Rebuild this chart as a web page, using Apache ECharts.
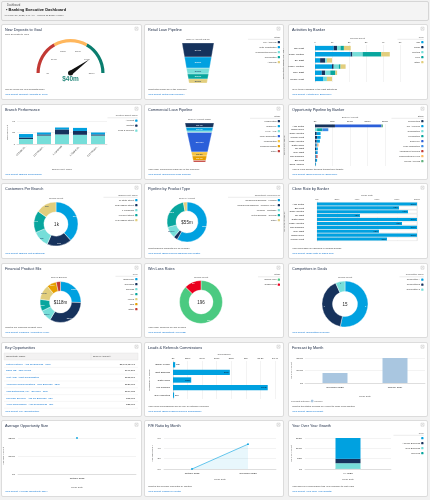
<!DOCTYPE html>
<html><head><meta charset="utf-8">
<script src="https://cdn.jsdelivr.net/npm/echarts@6/dist/echarts.min.js"></script>
<style>
html,body{margin:0;padding:0;background:#f2f2f2;}
#wrap{position:relative;width:430px;height:500px;overflow:hidden;background:#f2f2f2;}
.panel{position:absolute;background:#fff;border:1px solid #dcdcdc;border-radius:2px;box-sizing:border-box;}
#chart{position:absolute;left:0;top:0;width:430px;height:500px;}
</style></head><body>
<div id="wrap"><div id="panels"></div><div id="chart"></div></div>
<script>
// ---------------- DATA ----------------
const headerLabel = 'Dashboard';
const dashTitle = '• Banking Executive Dashboard';
const asOfText = 'As of Nov 27, 2023, 8:47 AM · Viewing as Bobby Kruger';

// New Deposits to Goal
const depositTicks = ['$0', '$10m', '$20m', '$30m', '$40m', '$50m'];
const depositMax = 50;
const depositValue = 40;
const depositLabel = '$40m';

// Retail Loan Pipeline
const retailStages = ['Pre-Approval', 'Rate Negotiation', 'Underwriting Review', 'Preparation', 'Approval'];
const retailAmounts = [740, 580, 310, 260, 210];
const retailLabels = ['$740k', '$580k', '$310k', '$260k', '$210k'];
const retailTotalText = 'Sum of Amount: $2.1m';

// Activities by Banker
const actBankers = ['Bill West', 'Cindy Central', 'Ely East', 'Kasey Central', 'Rory East', 'Wendy West'];
const actTypes = ['Call', 'Email', 'Meeting', 'Prep', 'Other'];
const actCall = [11, 21, 3, 10, 4, 5];
const actEmail = [2, 1, 3, 1, 2, 0];
const actMeeting = [2, 6, 1, 3, 3, 2];
const actPrep = [2, 11, 0, 1, 3, 0];
const actOther = [4, 5, 3, 3, 1, 3];

// Branch Performance
const branchNames = ['10 State Street', '123 Mission Street', '1 Landmark', '1 Market Street', '415 Mission Street'];
const branchObjects = ['Account', 'Contact', 'Lead & Referral'];
const branchAccount = [9, 5, 5, 8, 5];
const branchContact = [4, 3, 13, 10, 3];
const branchLead = [13, 22, 25, 24, 22];

// Commercial Loan Pipeline
const comStages = ['Prospecting', 'Discovery', 'KYC / AML', 'Loan Origination', 'Underwriting', 'Closing/Funding', 'Other'];
const comAmounts = [2.4, 1.9, 0.8, 10.5, 2.2, 2.4, 0.8];
const comLabels = ['$2.4m', '$1.9m', '', '$10.5m', '$2.2m', '$2.4m', ''];
const comTotalText = 'Sum of Amount: $21m';

// Opportunity Pipeline by Banker ($m)
const oppBankers = ['Alan Curtis', 'Sofia Lopez', 'Cindy Central', 'Wendy West', 'Kasey Central', 'Justin Chan', 'Ely East', 'Rory East', 'Ron Johnson', 'Bill West', 'Carla Halman'];
const oppStages = ['Prospecting', 'Pre-Approval', 'Qualification', 'Preparation', 'Discovery', 'Loan Origination', 'Assessment Needed', 'Underwriting Review', 'Needs Analysis'];
const oppProspecting = [5.7, 0, 0.5, 0.6, 0.5, 0.2, 0.3, 0.2, 0.1, 0.2, 0.1];
const oppPreApproval = [0, 0, 1.1, 1.0, 0.9, 0.3, 0.5, 0.5, 0.2, 0.4, 0.2];
const oppQualification = [0, 0.6, 0, 0, 0, 0, 0, 0, 0, 0, 0];
const oppPreparation = [0, 1.5, 0, 0, 0, 0, 0, 0, 0, 0, 0];
const oppDiscovery = [13.3, 0, 0, 0, 0, 0.2, 0, 0.1, 0.1, 0, 0];
const oppLoanOrig = [0, 1.7, 0, 0, 0, 0, 0, 0, 0, 0, 0];
const oppAssessment = [0, 0, 0, 0, 0, 0, 0, 0, 0.3, 0, 0];
const oppUnderwriting = [0, 0, 0, 0, 0, 0.3, 0, 0, 0, 0, 0];
const oppNeeds = [0.4, 0, 0, 0, 0, 0, 0, 0, 0, 0, 0];

// Customers Per Branch
const custBranches = ['10 State Street', '123 Mission Street', '1 Landmark', '1 Market Street', '415 Mission Street'];
const custCounts = [380, 180, 120, 160, 150];
const custLabels = ['380', '180', '120', '160', '150'];
const custTotal = '1k';

// Pipeline by Product Type ($m)
const prodTypes = ['Commercial Banking - Lending', 'Commercial Banking - Treasury Man...', 'Lending - Mortgage', 'Retail Banking - General', 'Other'];
const prodAmounts = [32, 1.8, 5.1, 14.5, 1.6];
const prodLabels = ['$32m', '', '$5.1m', '$15m', ''];
const prodTotal = '$55m';

// Close Rate by Banker (%)
const closeBankers = ['Alan Curtis', 'Bill West', 'Cindy Central', 'Ely East', 'Justin Chan', 'Kasey Central', 'Ron Johnson', 'Rory East', 'Sofia Lopez', 'Wendy West'];
const closeRates = [100, 82, 91, 43, 100, 85, 100, 62, 100, 70];

// Financial Product Mix ($m)
const finTypes = ['Brokerage', 'Checking', 'Savings', 'IRA', '401Ks', 'CDs', 'Other'];
const finAmounts = [30, 39, 11, 11, 14, 9, 4];
const finLabels = ['$30m', '$39m', '$11m', '$11m', '$14m', '$9m', ''];
const finTotal = '$118m';

// Win Loss Rates
const winStages = ['Closed Won', 'Closed Lost'];
const winCounts = [171, 25];
const winTotal = '196';

// Competitors in Deals
const compNames = ['Competitor A', 'Competitor B', 'Competitor C'];
const compCounts = [8, 6, 1];
const compTotal = '15';

// Key Opportunities
const keyOppNames = ['United Partners - Add On Business - 800K', 'TEFR OD - Jake Morris', 'Vent Away Asset Consolidation', 'Advanced Communications - New Business - 130K', 'Vand Enterprises, Inc. - Services - 110K', 'Universal Services - Add On Business - 85K', 'Allied Technologies - Add On Business - 35K'];
const keyOppAmounts = ['$3,848,024.17', '$997,200', '$183,876', '$130,000', '$109,888', '$85,000', '$35,000'];

// Leads & Referrals Commissions
const leadOwners = ['Bobby Kruger', 'Eliot Edwards', 'Justin Chan', 'Kim Johnson', 'Sue Marketing'];
const leadCommission = [30, 780, 250, 1300, 15];
const leadLabels = ['$30', '$780', '$250', '$1.3k', '$15'];

// Forecast by Month ($k)
const forecastMonths = ['December 2023', 'January 2024'];
const forecastPipeline = [320, 800];

// Average Opportunity Size ($k)
const avgMonths = ['October 2023'];
const avgAmount = [200];

// P/E Ratio by Month (%)
const peMonths = ['October 2023', 'November 2023'];
const peMargin = [0, 4.8];

// Year Over Year Growth ($m)
const yoyPeriods = ['FY 2023'];
const yoyTypes = ['-', 'Add On Business', 'New Business', 'Services'];
const yoyDash = [10.1];
const yoyAddOn = [2.1];
const yoyNew = [2.6];
const yoyServices = [0.2];

// ---------------- STYLE / LAYOUT ----------------
const FONT = "'Liberation Sans', Arial, sans-serif";
const BLUE = '#00a1e0', NAVY = '#16325c', LTEAL = '#76ded9', TEAL = '#08a69e', YELLOW = '#e2ce7d',
  ORANGE = '#e69f00', RED = '#c23934', LORANGE = '#ffb75d', GREEN = '#60b17d', DTEAL = '#0a7d6e', ROYAL = '#2b5fd9';
const TXT = '#3e3e3c', LINK = '#0070d2', TITLE = '#1d2b45';
const colX = [1, 144, 288], colW = [141, 140, 140];
const rowY = [24, 104, 183, 263, 342, 420], rowH = [76, 76, 76, 75, 75, 77];

const panelInfo = [
  ['New Deposits to Goal', 'Will we reach our new deposits goal?', 'View Report (Deposit Accounts by Type)'],
  ['Retail Loan Pipeline', 'What retail loans are in the pipeline?', 'View Report (Retail Loan Pipeline)'],
  ['Activities by Banker', 'Is my team engaging in the right activities?', 'View Report (Activities by Sales Rep)'],
  ['Branch Performance', '', 'View Report (Branch Performance)'],
  ['Commercial Loan Pipeline', 'How many commercial loans are in the pipeline?', 'View Report (Commercial Loan Pipeline)'],
  ['Opportunity Pipeline by Banker', 'How is each banker tracking toward their target?', 'View Report (Sales Pipeline by Sales Rep)'],
  ['Customers Per Branch', '', 'View Report (Branch Unit Customers)'],
  ['Pipeline by Product Type', 'What financial products are we selling?', 'View Report (Sales Pipeline Banking and Wealth)'],
  ['Close Rate by Banker', 'How successful are Bankers in Closing Deals?', 'View Report (Close Rate by Sales Rep)'],
  ['Financial Product Mix', 'What is our Financial Product Mix?', 'View Report (Financial Accounts by Type)'],
  ['Win Loss Rates', 'How many deals do we win or lose?', 'View Report (Opportunity Win Loss)'],
  ['Competitors in Deals', '', 'View Report (Competitors in Deals)'],
  ['Key Opportunities', '', 'View Report (Key Opportunities)'],
  ['Leads & Referrals Commissions', 'How much commissions will we pay for internal referrals?', 'View Report (Sales Leads & Referral Commission)'],
  ['Forecast by Month', 'What is the status of deals we expect to close each month?', 'View Report (Sales Forecast)'],
  ['Average Opportunity Size', '', 'View Report (Average Opportunity Size)'],
  ['P/E Ratio by Month', 'What is the average P/E Ratio by month?', 'View Report (Margin by Month)'],
  ['Year Over Year Growth', 'How does our performance this year compare to last year?', 'View Report (Year Over Year Growth)']
];

// panels (HTML backgrounds)
const pHost = document.getElementById('panels');
function addBox(x, y, w, h, extra) {
  const d = document.createElement('div');
  d.className = 'panel';
  d.style.cssText = `left:${x}px;top:${y}px;width:${w}px;height:${h}px;` + (extra || '');
  pHost.appendChild(d);
}
addBox(1, 1, 428, 20, 'background:#f4f4f4;border-color:#d6d6d6;');
const gfx = [];
function T(x, y, text, o) {
  const st = Object.assign({ text, fontSize: 2.5, fontFamily: FONT, fill: TXT, align: 'left', verticalAlign: 'middle' }, o || {});
  st.textAlign = st.align; st.textVerticalAlign = st.verticalAlign;
  gfx.push({ type: 'text', x, y, silent: true, z: 50, style: st });
}
function L(x1, y1, x2, y2, c, w) {
  gfx.push({ type: 'line', silent: true, z: 40, shape: { x1, y1, x2, y2 }, style: { stroke: c || '#ddd', lineWidth: w || 0.4 } });
}
function R(x, y, w, h, fill, stroke, r) {
  gfx.push({ type: 'rect', silent: true, z: 40, shape: { x, y, width: w, height: h, r: r || 0 }, style: { fill: fill || 'none', stroke: stroke || null, lineWidth: 0.4 } });
}
const panels = [];
for (let r = 0; r < 6; r++) for (let c = 0; c < 3; c++) {
  const x = colX[c], y = rowY[r], w = colW[c], h = rowH[r];
  panels.push({ x, y, w, h });
  addBox(x, y, w, h);
}
panels.forEach((p, i) => {
  const [t, q, l] = panelInfo[i];
  T(p.x + 4, p.y + 5.5, t, { fontSize: 3.8, fill: TITLE });
  // expand icon
  R(p.x + p.w - 7, p.y + 3.2, 3, 3, 'none', '#b0b0b0');
  L(p.x + p.w - 6.4, p.y + 3.8, p.x + p.w - 4.6, p.y + 5.6, '#b0b0b0', 0.3);
  L(p.x + p.w - 4.6, p.y + 3.8, p.x + p.w - 6.4, p.y + 5.6, '#b0b0b0', 0.3);
  const by = p.y + p.h;
  if (q) T(p.x + 4, by - 10.5, q, { fontSize: 2.4 });
  T(p.x + 4, by - 5.5, l, { fontSize: 2.4, fill: LINK });
});
// header
T(7, 5.5, headerLabel, { fontSize: 2.7, fill: '#555' });
T(6, 10, dashTitle, { fontSize: 4, fontWeight: 'bold', fill: '#111' });
T(4, 15.5, asOfText, { fontSize: 2.4, fill: '#555' });
// subtitle of gauge
T(5, 34.5, 'New Deposits to Goal', { fontSize: 2.5, fill: '#555' });

function legend(right, y, title, names, cols, lineW) {
  T(right + 0.3, y, title, { align: 'right', fontSize: 2.3, fill: '#555' });
  L(right - lineW, y + 2.3, right + 0.3, y + 2.3, '#cfcfcf', 0.4);
  names.forEach((n, i) => {
    const yy = y + 5.2 + i * 5;
    T(right - 3.4, yy, n, { align: 'right', fontSize: 2.3 });
    R(right - 2.3, yy - 1.15, 2.3, 2.3, cols[i], null, 0.6);
  });
}

const retailColors = [NAVY, BLUE, LTEAL, TEAL, YELLOW];
const actColors = [BLUE, NAVY, LTEAL, TEAL, YELLOW];
const branchColors = [BLUE, NAVY, LTEAL];
const comColors = [NAVY, BLUE, LTEAL, ROYAL, '#f5c342', ORANGE, RED];
const oppColors = [NAVY, BLUE, LTEAL, TEAL, ROYAL, '#3d8ce6', RED, LORANGE, GREEN];
const custColors = [BLUE, NAVY, LTEAL, TEAL, YELLOW];
const prodColors = [BLUE, NAVY, LTEAL, TEAL, YELLOW];
const finColors = [BLUE, NAVY, LTEAL, TEAL, YELLOW, ORANGE, RED];
const winColors = ['#4bca81', '#ea001e'];
const compColors = [BLUE, NAVY, LTEAL];
const yoyColors = [BLUE, NAVY, LTEAL, TEAL];

legend(280, 37, 'Stage', retailStages, retailColors, 32);
legend(423.5, 37, 'Type', actTypes, actColors, 26);
legend(137.5, 115.5, 'Related Object Name', branchObjects, branchColors, 30);
legend(280, 116, 'Stage', comStages, comColors, 30);
legend(423.5, 116, 'Stage', oppStages, oppColors, 32);
legend(137.5, 195, 'Branch Unit: Name', custBranches, custColors, 34);
legend(280, 195, 'Opportunity Record Type', prodTypes, prodColors, 52);
legend(137.5, 274, 'Type', finTypes, finColors, 22);
legend(280, 274.5, 'Stage', winStages, winColors, 22);
legend(423.5, 274.5, 'Competitor Name', compNames, compColors, 24);
legend(423.5, 433, 'Type', yoyTypes, yoyColors, 30);

// funnel / donut captions and center values
T(198, 39, retailTotalText, { align: 'center', fontSize: 2.3, fill: '#555' });
T(199.5, 119, comTotalText, { align: 'center', fontSize: 2.3, fill: '#555' });
T(56, 198, 'Record Count', { align: 'center', fontSize: 2.3, fill: '#555' });
T(187, 198, 'Sum of Amount', { align: 'center', fontSize: 2.3, fill: '#555' });
T(59, 277, 'Sum of Balance', { align: 'center', fontSize: 2.3, fill: '#555' });
T(201, 277, 'Record Count', { align: 'center', fontSize: 2.3, fill: '#555' });
T(345, 277, 'Record Count', { align: 'center', fontSize: 2.3, fill: '#555' });
T(56.5, 224.5, custTotal, { align: 'center', fontSize: 4.5, fill: '#222' });
T(187, 222.5, prodTotal, { align: 'center', fontSize: 4.5, fill: '#222' });
T(60.5, 302.5, finTotal, { align: 'center', fontSize: 4.5, fill: '#222' });
T(201, 302.5, winTotal, { align: 'center', fontSize: 4.5, fill: '#222' });
T(345, 304.5, compTotal, { align: 'center', fontSize: 4.5, fill: '#222' });

// Key Opportunities table
R(4, 353, 134, 7, '#f3f2f2', '#dedede');
L(91, 353, 91, 360, '#dedede', 0.4);
T(6, 356.6, 'Opportunity Name', { fontSize: 2.4 });
T(93, 356.6, 'Sum of Amount ↓', { fontSize: 2.4 });
keyOppNames.forEach((n, i) => {
  const yy = 364 + i * 6.8;
  T(6, yy, n, { fontSize: 2.4, fill: LINK });
  T(135, yy, keyOppAmounts[i], { fontSize: 2.4, align: 'right', fill: '#222' });
  L(4, yy + 3.4, 138, yy + 3.4, '#e8e8e8', 0.4);
});

// forecast legend
T(291, 401, 'Forecast Category:', { fontSize: 2.3, fill: '#555' });
R(311, 399.8, 2.4, 2.4, '#a9c6e0', null, 0.4);
T(314.5, 401, 'Pipeline', { fontSize: 2.3, fill: '#555' });

// ---------------- CHART ----------------
const grids = [], xAxes = [], yAxes = [], series = [];
function addGrid(g, xa, ya) {
  const i = grids.length; grids.push(g);
  xa.gridIndex = i; ya.gridIndex = i; xAxes.push(xa); yAxes.push(ya); return i;
}
const lab = (o) => Object.assign({ fontSize: 2.4, color: TXT, fontFamily: FONT }, o || {});
const nameStyle = { fontSize: 2.4, color: '#555', fontFamily: FONT };
const split = { show: true, lineStyle: { color: '#e6e6e6', width: 0.5 } };
const noTick = { show: false };
const noLine = { show: false };
const thinLine = { show: true, lineStyle: { color: '#c9c9c9', width: 0.5 } };
const money = (v, unit) => v === 0 ? '$0' : '$' + v + unit;

// Activities by Banker
let gi = addGrid({ left: 315, top: 45, width: 85, height: 37 },
  { type: 'value', position: 'top', min: 0, max: 50, interval: 10, name: 'Record Count', nameLocation: 'middle', nameGap: 6, nameTextStyle: nameStyle, axisLabel: lab({ margin: 1.5 }), splitLine: split, axisLine: noLine, axisTick: noTick },
  { type: 'category', inverse: true, data: actBankers, axisLabel: lab({ margin: 11, interval: 0, fontSize: 2.5, color: '#222' }), axisTick: noTick, axisLine: thinLine, name: 'Opportunity Owner: Full Na...', nameLocation: 'middle', nameRotate: 90, nameGap: 21, nameTextStyle: nameStyle });
[actCall, actEmail, actMeeting, actPrep, actOther].forEach((d, k) => series.push({ type: 'bar', name: actTypes[k], stack: 'act', xAxisIndex: gi, yAxisIndex: gi, data: d, barCategoryGap: '28%', itemStyle: { color: actColors[k] }, silent: true }));

// Branch Performance
gi = addGrid({ left: 17, top: 121, width: 90, height: 23 },
  { type: 'category', data: branchNames, axisLabel: lab({ rotate: 45, margin: 2, interval: 0, formatter: v => v.length > 11 ? v.slice(0, 11) + '...' : v }), axisTick: noTick, axisLine: thinLine, name: 'Branch Unit: Name', nameLocation: 'middle', nameGap: 24, nameTextStyle: nameStyle },
  { type: 'value', min: 0, max: 60, interval: 30, axisLabel: lab({ margin: 2 }), splitLine: split, axisLine: noLine, axisTick: noTick, name: 'Record Count', nameLocation: 'middle', nameRotate: 90, nameGap: 8, nameTextStyle: nameStyle });
[[branchLead, 2], [branchContact, 1], [branchAccount, 0]].forEach(([d, k]) => series.push({ type: 'bar', name: branchObjects[k], stack: 'br', xAxisIndex: gi, yAxisIndex: gi, data: d, barCategoryGap: '22%', itemStyle: { color: branchColors[k] }, silent: true }));

// Opportunity Pipeline by Banker
gi = addGrid({ left: 315, top: 124, width: 70, height: 42 },
  { type: 'value', position: 'top', min: 0, max: 20, interval: 5, name: 'Sum of Amount', nameLocation: 'middle', nameGap: 6, nameTextStyle: nameStyle, axisLabel: lab({ margin: 1.5, formatter: v => money(v, 'm') }), splitLine: split, axisLine: noLine, axisTick: noTick },
  { type: 'category', inverse: true, data: oppBankers, axisLabel: lab({ margin: 11, interval: 0, fontSize: 2.4, color: '#222' }), axisTick: noTick, axisLine: thinLine, name: 'Opportunity Owner', nameLocation: 'middle', nameRotate: 90, nameGap: 21, nameTextStyle: nameStyle });
[oppProspecting, oppPreApproval, oppQualification, oppPreparation, oppDiscovery, oppLoanOrig, oppAssessment, oppUnderwriting, oppNeeds].forEach((d, k) => series.push({ type: 'bar', name: oppStages[k], stack: 'opp', xAxisIndex: gi, yAxisIndex: gi, data: d, barCategoryGap: '25%', itemStyle: { color: oppColors[k] }, silent: true }));

// Close Rate by Banker
gi = addGrid({ left: 317, top: 202, width: 100, height: 39 },
  { type: 'value', position: 'top', min: 0, max: 100, interval: 20, name: 'Close Rate', nameLocation: 'middle', nameGap: 6, nameTextStyle: nameStyle, axisLabel: lab({ margin: 1.5, formatter: '{value}%' }), splitLine: split, axisLine: noLine, axisTick: noTick },
  { type: 'category', inverse: true, data: closeBankers, axisLabel: lab({ margin: 13, interval: 0, fontSize: 2.4, color: '#222' }), axisTick: noTick, axisLine: thinLine, name: 'Opportunity Owner', nameLocation: 'middle', nameRotate: 90, nameGap: 23, nameTextStyle: nameStyle });
series.push({ type: 'bar', name: 'Close Rate', xAxisIndex: gi, yAxisIndex: gi, data: closeRates, barCategoryGap: '20%', itemStyle: { color: BLUE }, silent: true,
  showBackground: true, backgroundStyle: { color: '#fff', borderColor: '#c8c8c8', borderWidth: 0.3 },
  label: { show: true, position: 'insideRight', distance: 1, fontSize: 2.2, color: '#0b1b33', fontFamily: FONT, formatter: p => p.value + '%' } });

// Leads & Referrals Commissions
gi = addGrid({ left: 173, top: 361, width: 102, height: 38 },
  { type: 'value', position: 'top', min: 0, max: 1400, interval: 200, name: 'Commission', nameLocation: 'middle', nameGap: 6, nameTextStyle: nameStyle, axisLabel: lab({ margin: 1.5, formatter: v => v === 0 ? '$0' : v < 1000 ? '$' + v : '$' + (v / 1000) + 'k' }), splitLine: split, axisLine: noLine, axisTick: noTick },
  { type: 'category', inverse: true, data: leadOwners, axisLabel: lab({ margin: 3, interval: 0, fontSize: 2.4, color: '#222' }), axisTick: noTick, axisLine: thinLine, name: 'Lead/Referral Owner', nameLocation: 'middle', nameRotate: 90, nameGap: 19, nameTextStyle: nameStyle });
series.push({ type: 'bar', name: 'Commission', xAxisIndex: gi, yAxisIndex: gi, barCategoryGap: '30%', silent: true,
  itemStyle: { color: BLUE },
  data: leadCommission.map((v, i) => ({ value: v, label: { show: true, position: v > 200 ? 'insideRight' : 'right', distance: 1, fontSize: 2.2, color: '#0b1b33', fontFamily: FONT, formatter: () => leadLabels[i] } })) });

// Forecast by Month
gi = addGrid({ left: 305, top: 358, width: 120, height: 25 },
  { type: 'category', data: forecastMonths, axisLabel: lab({ margin: 3, interval: 0, color: '#222' }), axisTick: noTick, axisLine: thinLine, name: 'Close Date', nameLocation: 'middle', nameGap: 12, nameTextStyle: nameStyle },
  { type: 'value', min: 0, max: 800, interval: 400, axisLabel: lab({ margin: 2, formatter: v => money(v, 'k') }), splitLine: split, axisLine: noLine, axisTick: noTick, name: 'Sum of Amount', nameLocation: 'middle', nameRotate: 90, nameGap: 12, nameTextStyle: nameStyle });
series.push({ type: 'bar', name: 'Pipeline', xAxisIndex: gi, yAxisIndex: gi, data: forecastPipeline, barWidth: 25, itemStyle: { color: '#a9c6e0' }, silent: true });

// Average Opportunity Size
gi = addGrid({ left: 18, top: 438, width: 118, height: 36 },
  { type: 'category', data: avgMonths, axisLabel: lab({ margin: 3, interval: 0, color: '#222' }), axisTick: noTick, axisLine: thinLine, name: 'Close Date', nameLocation: 'middle', nameGap: 12, nameTextStyle: nameStyle },
  { type: 'value', min: 0, max: 200, interval: 100, axisLabel: lab({ margin: 3, formatter: v => money(v, 'k') }), splitLine: split, axisLine: noLine, axisTick: noTick, name: 'Average Amount', nameLocation: 'middle', nameRotate: 90, nameGap: 12, nameTextStyle: nameStyle });
series.push({ type: 'line', name: 'Average Amount', xAxisIndex: gi, yAxisIndex: gi, data: avgAmount, symbol: 'circle', symbolSize: 1.8, itemStyle: { color: BLUE }, lineStyle: { color: BLUE, width: 0.7 }, silent: true });

// P/E Ratio by Month
gi = addGrid({ left: 164, top: 438, width: 112, height: 31 },
  { type: 'category', data: peMonths, axisLabel: lab({ margin: 3, interval: 0, color: '#222' }), axisTick: noTick, axisLine: thinLine, name: 'Close Date', nameLocation: 'middle', nameGap: 9, nameTextStyle: nameStyle },
  { type: 'value', min: 0, max: 6, interval: 2, axisLabel: lab({ margin: 3, formatter: '{value}%' }), splitLine: split, axisLine: noLine, axisTick: noTick, name: 'Average Margin', nameLocation: 'middle', nameRotate: 90, nameGap: 10, nameTextStyle: nameStyle });
series.push({ type: 'line', name: 'Average Margin', xAxisIndex: gi, yAxisIndex: gi, data: peMargin, symbol: 'circle', symbolSize: 1.8, itemStyle: { color: BLUE }, lineStyle: { color: BLUE, width: 0.6 }, areaStyle: { color: 'rgba(0,161,224,0.13)' }, silent: true });

// Year Over Year Growth
gi = addGrid({ left: 305, top: 438, width: 86, height: 31 },
  { type: 'category', data: yoyPeriods, axisLabel: lab({ margin: 3, interval: 0, color: '#222' }), axisTick: noTick, axisLine: thinLine, name: 'Close Date', nameLocation: 'middle', nameGap: 9, nameTextStyle: nameStyle },
  { type: 'value', min: 0, max: 15, interval: 5, axisLabel: lab({ margin: 3, formatter: v => money(v, 'm') }), splitLine: split, axisLine: noLine, axisTick: noTick, name: 'Sum of Amount', nameLocation: 'middle', nameRotate: 90, nameGap: 10, nameTextStyle: nameStyle });
[[yoyServices, 3], [yoyNew, 2], [yoyAddOn, 1], [yoyDash, 0]].forEach(([d, k]) => series.push({ type: 'bar', name: yoyTypes[k], stack: 'yoy', xAxisIndex: gi, yAxisIndex: gi, data: d, barWidth: 25, itemStyle: { color: yoyColors[k] }, silent: true }));

// Funnels (custom series drawn through hidden value axes)
function funnel(g, vals, cols, labels, botRatio, darkIdx) {
  const total = vals.reduce((a, b) => a + b, 0);
  let acc = 0;
  const data = vals.map((v, i) => { const d = [acc, acc + v, i]; acc += v; return d; });
  const ax = addGrid(g, { type: 'value', min: -1, max: 1, show: false }, { type: 'value', min: 0, max: total, inverse: true, show: false });
  series.push({ type: 'custom', xAxisIndex: ax, yAxisIndex: ax, silent: true, data,
    renderItem: (params, api) => {
      const s = api.value(0), e = api.value(1), i = api.value(2);
      const hw = v => 1 - (1 - botRatio) * v / total;
      const pts = [api.coord([-hw(s), s]), api.coord([hw(s), s]), api.coord([hw(e), e]), api.coord([-hw(e), e])];
      const c = api.coord([0, (s + e) / 2]);
      const ch = [{ type: 'polygon', shape: { points: pts }, style: { fill: cols[i], stroke: '#fff', lineWidth: 0.3 } }];
      if (labels[i]) ch.push({ type: 'text', x: c[0], y: c[1], style: { text: labels[i], fontSize: 2.3, fontFamily: FONT, fill: darkIdx.includes(i) ? '#16325c' : '#fff', align: 'center', verticalAlign: 'middle', textAlign: 'center', textVerticalAlign: 'middle' } });
      return { type: 'group', children: ch };
    } });
}
funnel({ left: 182, top: 43, width: 32, height: 40 }, retailAmounts, retailColors, retailLabels, 0.56, [2, 4]);
funnel({ left: 185, top: 123, width: 29, height: 39 }, comAmounts, comColors, comLabels, 0.41, [2, 4]);

// Donuts
function donut(center, radius, names, vals, cols, labels) {
  const light = [LTEAL, YELLOW, '#f5c342'];
  series.push({ type: 'pie', center, radius, startAngle: 90, clockwise: true, avoidLabelOverlap: false, silent: true,
    itemStyle: { borderColor: '#fff', borderWidth: 0.4 }, labelLine: { show: false }, emphasis: { disabled: true },
    data: names.map((n, i) => ({ name: n, value: vals[i], itemStyle: { color: cols[i] },
      label: { show: !!labels[i], position: 'inside', fontSize: 2.2, fontFamily: FONT, color: light.includes(cols[i]) ? '#16325c' : '#fff', formatter: () => labels[i] } })) });
}
donut([56, 224], [12, 22], custBranches, custCounts, custColors, custLabels);
donut([187, 222], [11, 20], prodTypes, prodAmounts, prodColors, prodLabels);
donut([60.5, 302], [11, 20.5], finTypes, finAmounts, finColors, finLabels);
donut([201, 302], [12, 21.5], winStages, winCounts, winColors, winCounts.map(String));
donut([345, 304], [12.5, 23], compNames, compCounts, compColors, compCounts.map(String));

// Gauge
series.push({ type: 'gauge', center: [70.5, 73], radius: 34, startAngle: 180, endAngle: 0, min: 0, max: depositMax, splitNumber: depositTicks.length - 1, silent: true,
  axisLine: { lineStyle: { width: 3.2, color: [[1 / 3, RED], [2 / 3, LORANGE], [1, DTEAL]] } },
  splitLine: { show: false, length: 0, distance: 0 }, axisTick: { show: false },
  axisLabel: { distance: 10, fontSize: 2.3, color: '#666', fontFamily: FONT, formatter: v => depositTicks[Math.round(v / depositMax * (depositTicks.length - 1))] },
  pointer: { icon: 'triangle', width: 4.5, length: '68%', itemStyle: { color: '#111' } },
  anchor: { show: true, size: 5, showAbove: true, itemStyle: { color: '#111' } },
  title: { show: false },
  detail: { offsetCenter: [0, 6.5], fontSize: 6.5, fontWeight: 'bold', fontFamily: FONT, color: '#2a8a7e', formatter: () => depositLabel },
  data: [{ value: depositValue }] });

const chart = echarts.init(document.getElementById('chart'), null, { renderer: 'canvas' });
chart.setOption({
  animation: false,
  backgroundColor: 'transparent',
  textStyle: { fontFamily: FONT },
  grid: grids, xAxis: xAxes, yAxis: yAxes, series,
  graphic: { elements: gfx }
});
</script>
</body></html>
